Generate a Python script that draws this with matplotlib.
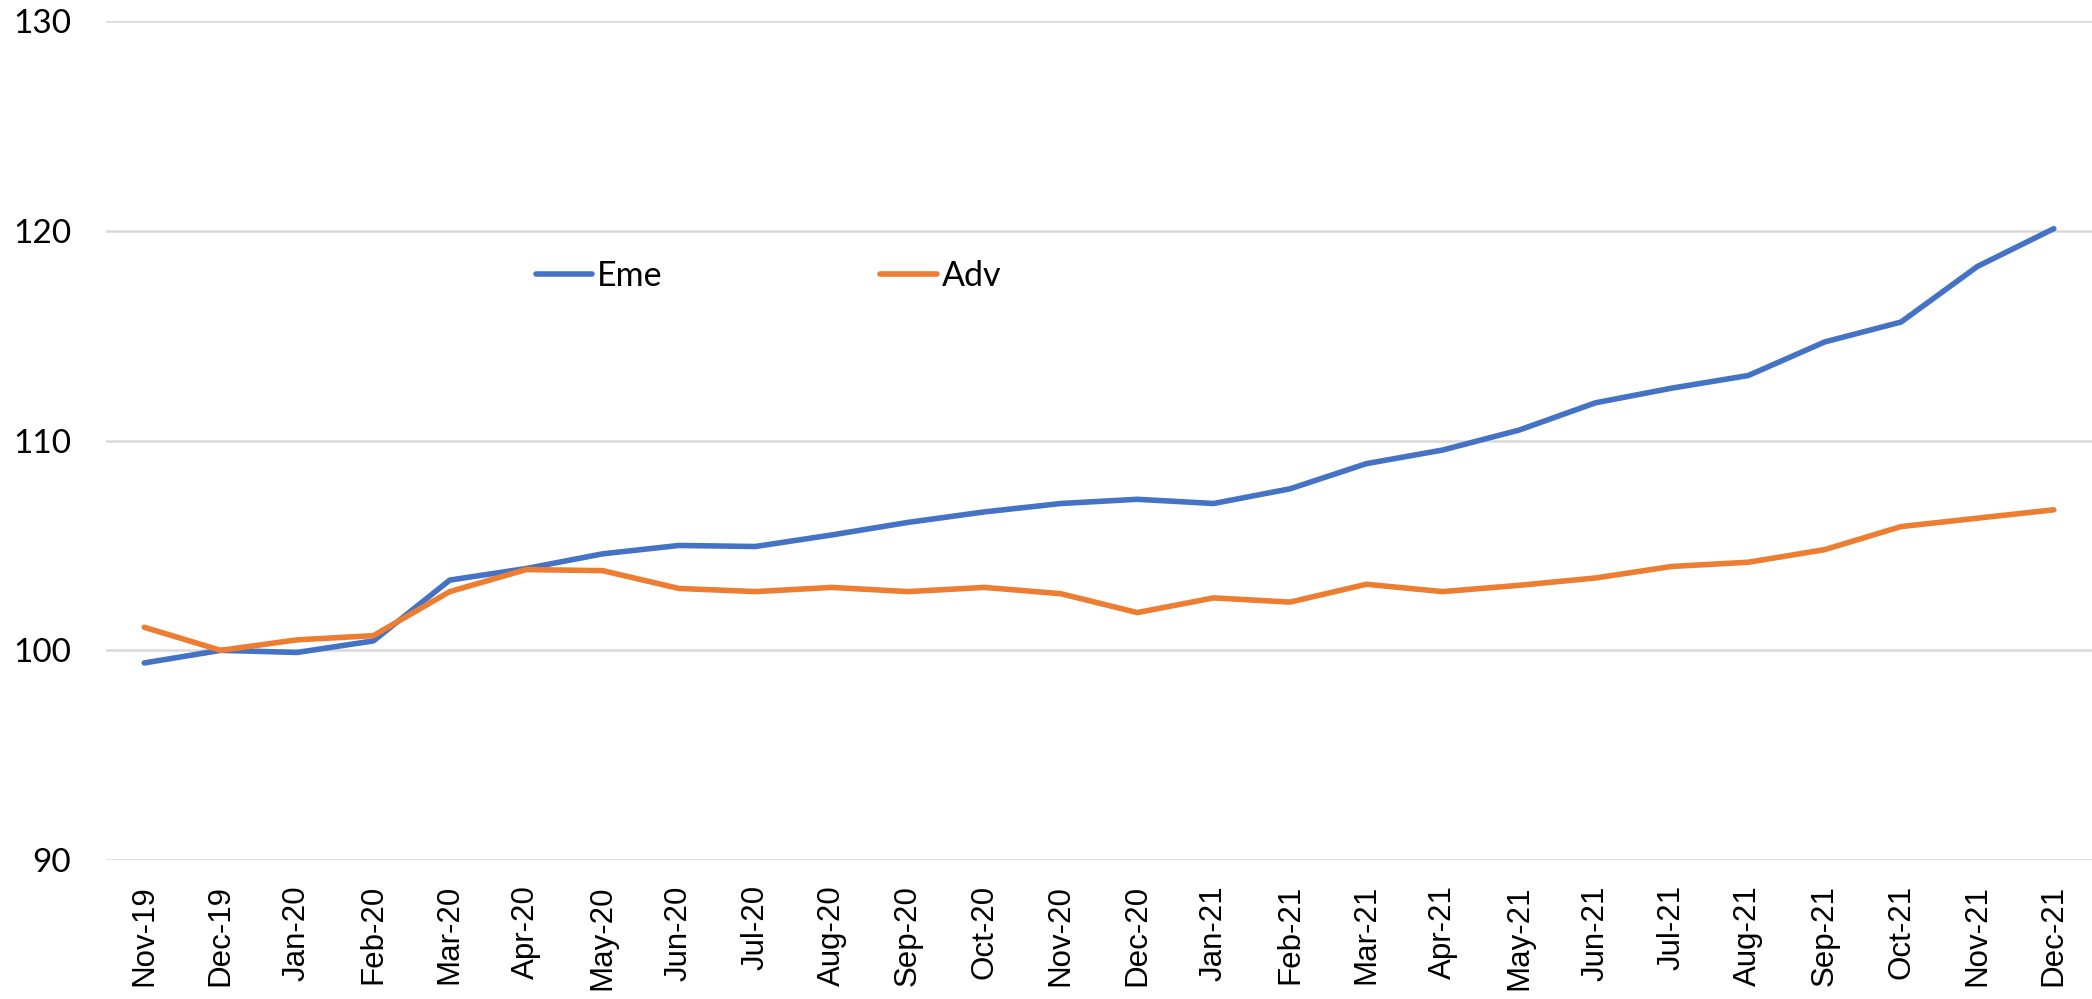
import numpy as np
import matplotlib.pyplot as plt

# monthly index values
months = ['Nov-19', 'Dec-19', 'Jan-20', 'Feb-20', 'Mar-20', 'Apr-20', 'May-20',
          'Jun-20', 'Jul-20', 'Aug-20', 'Sep-20', 'Oct-20', 'Nov-20', 'Dec-20',
          'Jan-21', 'Feb-21', 'Mar-21', 'Apr-21', 'May-21', 'Jun-21', 'Jul-21',
          'Aug-21', 'Sep-21', 'Oct-21', 'Nov-21', 'Dec-21']
eme = [99.4, 100.0, 99.9, 100.45, 103.35, 103.9, 104.6, 105.0, 104.95, 105.5,
       106.1, 106.6, 107.0, 107.2, 107.0, 107.7, 108.9, 109.55, 110.5, 111.8,
       112.5, 113.1, 114.7, 115.65, 118.3, 120.1]
adv = [101.1, 100.0, 100.5, 100.7, 102.8, 103.85, 103.8, 102.95, 102.8, 103.0,
       102.8, 103.0, 102.7, 101.8, 102.5, 102.3, 103.15, 102.8, 103.1, 103.45,
       104.0, 104.2, 104.8, 105.9, 106.3, 106.7]
yticks = [90, 100, 110, 120, 130]

fig = plt.figure(figsize=(20.92, 9.99), dpi=100)
ax = fig.add_axes([0.0507, 0.139, 0.9493, 0.84])

x = np.arange(len(months))
ax.plot(x, eme, color='#4472C4', lw=4.0, label='Eme', solid_capstyle='round')
ax.plot(x, adv, color='#ED7D31', lw=4.0, label='Adv', solid_capstyle='round')

ax.set_xlim(-0.5, len(months) - 0.5)
ax.set_ylim(90, 130)
ax.set_yticks(yticks)
ax.set_yticklabels([str(v) for v in yticks], family='Lato', fontsize=24)
ax.yaxis.grid(True, color='#D9D9D9', lw=1.8)
ax.set_axisbelow(True)
for s in ax.spines.values():
    s.set_visible(False)

ax.set_xticks(x)
ax.set_xticklabels(months, rotation=90, family='Liberation Sans', fontsize=22.5)
ax.tick_params(axis='x', length=0, pad=18)
ax.tick_params(axis='y', length=0, pad=25)

ax.legend(loc='center left', bbox_to_anchor=(0.201, 0.696), ncol=2,
          frameon=False, prop={'family': 'Lato', 'size': 24.5},
          handlelength=1.65, handletextpad=0.15, columnspacing=6.4)

plt.savefig('out.png', dpi=100)
